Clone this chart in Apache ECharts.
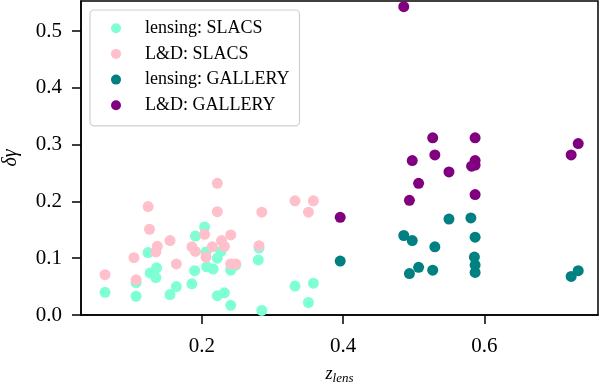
<!DOCTYPE html>
<html><head><meta charset="utf-8">
<script src="https://cdn.jsdelivr.net/npm/echarts@6/dist/echarts.min.js"></script>
<style>html,body{margin:0;padding:0;background:#fff}#c{width:599px;height:389px}</style>
</head><body><div id="c"></div>
<script>
const seriesNames = ['lensing: SLACS', 'L&D: SLACS', 'lensing: GALLERY', 'L&D: GALLERY'];
const lensingSLACS = [[0.063,0.040],[0.107,0.057],[0.107,0.033],[0.124,0.110],[0.127,0.074],[0.136,0.083],[0.135,0.066],[0.155,0.036],[0.164,0.050],[0.186,0.055],[0.190,0.078],[0.191,0.139],[0.204,0.155],[0.206,0.111],[0.207,0.085],[0.216,0.081],[0.222,0.100],[0.227,0.112],[0.222,0.034],[0.232,0.039],[0.241,0.017],[0.241,0.079],[0.248,0.088],[0.281,0.118],[0.280,0.097],[0.285,0.008],[0.332,0.051],[0.358,0.056],[0.351,0.022]];
const ldSLACS = [[0.063,0.071],[0.104,0.101],[0.107,0.062],[0.124,0.191],[0.126,0.151],[0.137,0.121],[0.135,0.111],[0.155,0.131],[0.164,0.090],[0.186,0.120],[0.191,0.112],[0.204,0.142],[0.206,0.102],[0.215,0.120],[0.222,0.232],[0.222,0.182],[0.228,0.131],[0.232,0.121],[0.241,0.141],[0.241,0.090],[0.248,0.090],[0.285,0.181],[0.281,0.122],[0.332,0.201],[0.358,0.201],[0.351,0.181]];
const lensingGALLERY = [[0.396,0.095],[0.550,0.169],[0.581,0.171],[0.486,0.140],[0.498,0.131],[0.587,0.137],[0.530,0.120],[0.586,0.102],[0.587,0.088],[0.587,0.075],[0.507,0.084],[0.494,0.073],[0.527,0.079],[0.733,0.078],[0.723,0.068]];
const ldGALLERY = [[0.396,0.172],[0.486,0.543],[0.527,0.312],[0.587,0.312],[0.530,0.282],[0.498,0.272],[0.587,0.272],[0.582,0.262],[0.587,0.264],[0.550,0.252],[0.507,0.232],[0.494,0.202],[0.587,0.212],[0.733,0.302],[0.723,0.282]];
const xTicks = [0.2, 0.4, 0.6];
const yTicks = [0.0, 0.1, 0.2, 0.3, 0.4, 0.5];
const colors = ['#7fffd4', '#ffc0cb', '#008080', '#800080'];
const allData = [lensingSLACS, ldSLACS, lensingGALLERY, ldGALLERY];

const FONT = 'Liberation Serif';
const chart = echarts.init(document.getElementById('c'), null, {renderer: 'canvas'});
const lineCommon = {show: true, onZero: false, lineStyle: {color: '#000', width: 1.5}};
chart.setOption({
  animation: false,
  grid: {left: 81, right: 1, top: 1, bottom: 74, containLabel: false, outerBoundsMode: 'none',
         show: true, borderColor: '#000', borderWidth: 1.5, backgroundColor: 'transparent'},
  xAxis: {
    type: 'value', min: 0.029, max: 0.761,
    name: '{z|z}{s|lens}', nameLocation: 'middle', nameGap: 49,
    nameTextStyle: {rich: {z: {fontFamily: FONT, fontStyle: 'italic', fontSize: 18, color: '#000'}, s: {fontFamily: FONT, fontStyle: 'italic', fontSize: 13, color: '#000', padding: [8, 0, 0, 0]}}},
    axisLine: lineCommon,
    axisTick: {show: true, customValues: xTicks, length: 9, lineStyle: {color: '#000', width: 1.5}},
    splitLine: {show: false},
    axisLabel: {customValues: xTicks, formatter: v => v.toFixed(1), fontFamily: FONT, fontSize: 21, color: '#000', margin: 21}
  },
  yAxis: {
    type: 'value', min: 0, max: 0.553,
    name: 'δγ', nameLocation: 'middle', nameGap: 60, nameRotate: 90,
    nameTextStyle: {fontFamily: FONT, fontStyle: 'italic', fontSize: 20, color: '#000'},
    axisLine: lineCommon,
    axisTick: {show: true, customValues: yTicks, length: 9, lineStyle: {color: '#000', width: 1.5}},
    splitLine: {show: false},
    axisLabel: {customValues: yTicks, formatter: v => v.toFixed(1), fontFamily: FONT, fontSize: 21, color: '#000', margin: 19}
  },
  legend: {
    orient: 'vertical', left: 90, top: 10,
    data: seriesNames.map(n => ({name: n, icon: 'circle'})),
    itemWidth: 48, itemHeight: 10, itemGap: 7.7,
    padding: [9.2, 10, 11.5, 21],
    borderColor: '#d0d0d0', borderWidth: 1.2, borderRadius: 4,
    backgroundColor: 'rgba(255,255,255,0.8)',
    textStyle: {fontFamily: FONT, fontSize: 18, color: '#000', lineHeight: 18}
  },
  series: seriesNames.map((n, i) => ({
    name: n, type: 'scatter', data: allData[i], symbol: 'circle', symbolSize: 11,
    itemStyle: {color: colors[i], opacity: 1}, z: 2 + i
  }))
});
</script></body></html>
